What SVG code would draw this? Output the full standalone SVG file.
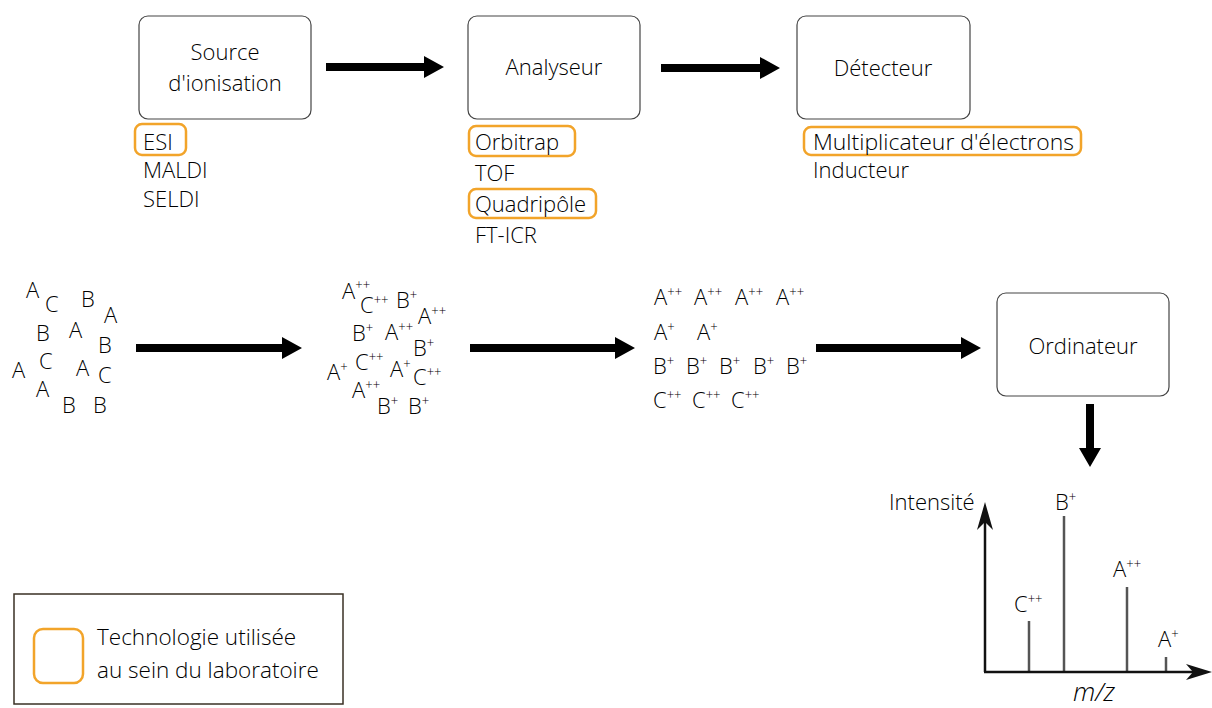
<svg xmlns="http://www.w3.org/2000/svg" width="1212" height="708" viewBox="0 0 1212 708">
<style>
text{font-family:"Open Sans","Noto Sans","Liberation Sans",sans-serif;font-size:22px;font-weight:300;fill:#000}
.box{fill:#fff;stroke:#444;stroke-width:1.2}
.hl{fill:none;stroke:#F2A42A;stroke-width:2.5}
.c{text-anchor:middle}
.s{font-size:13px}
.leg{font-size:22.5px}
.mz{font-size:26px;font-style:italic}
.bar{stroke:#555;stroke-width:2.5}
.ax{stroke:#111;stroke-width:2.5;fill:none}
.big{fill:#000}
</style>

<g id="connectors">
<path class="big" d="M326,63 H424 V56 L444,67 L424,78 V71 H326 Z"/>
<path class="big" d="M661,64 H760 V57 L780,68 L760,79 V72 H661 Z"/>
<path class="big" d="M136,344 H282 V337 L302,348 L282,359 V352 H136 Z"/>
<path class="big" d="M470,344 H615 V337 L635,348 L615,359 V352 H470 Z"/>
<path class="big" d="M816,344 H961 V337 L981,348 L961,359 V352 H816 Z"/>
<path class="big" d="M1086,404 H1094 V448 H1101 L1090,467 L1079,448 H1086 Z"/>
</g>

<g id="source">
<rect class="box" x="139" y="16" width="172" height="103" rx="9"/>
<text class="c" x="225" y="60">Source</text>
<text class="c" x="225" y="91">d'ionisation</text>
<rect class="hl" x="135" y="124" width="51" height="31" rx="7"/>
<text x="143" y="150">ESI</text>
<text x="143" y="178">MALDI</text>
<text x="143" y="207">SELDI</text>
</g>

<g id="analyseur">
<rect class="box" x="468" y="16" width="172" height="103" rx="9"/>
<text class="c" x="554" y="75">Analyseur</text>
<rect class="hl" x="469" y="126" width="106" height="30" rx="7"/>
<text x="475" y="150">Orbitrap</text>
<text x="475" y="181">TOF</text>
<rect class="hl" x="469" y="189" width="127" height="29" rx="7"/>
<text x="475" y="212">Quadripôle</text>
<text x="475" y="243">FT-ICR</text>
</g>

<g id="detecteur">
<rect class="box" x="797" y="16" width="173" height="103" rx="9"/>
<text class="c" x="883" y="76">Détecteur</text>
<rect class="hl" x="804" y="127" width="277" height="28" rx="7"/>
<text x="813" y="150" textLength="261" lengthAdjust="spacingAndGlyphs">Multiplicateur d'électrons</text>
<text x="813" y="178">Inducteur</text>
</g>

<g id="ordinateur">
<rect class="box" x="997" y="293" width="172" height="103" rx="9"/>
<text class="c" x="1083" y="354">Ordinateur</text>
</g>

<g id="molecules">
<text x="26" y="298">A</text>
<text x="45" y="312">C</text>
<text x="81" y="307">B</text>
<text x="104" y="323">A</text>
<text x="36" y="341">B</text>
<text x="69" y="338">A</text>
<text x="98" y="353">B</text>
<text x="39" y="369">C</text>
<text x="12" y="378">A</text>
<text x="76" y="376">A</text>
<text x="98" y="383">C</text>
<text x="36" y="397">A</text>
<text x="62" y="413">B</text>
<text x="93" y="413">B</text>
</g>

<g id="ions">
<text x="342" y="299">A<tspan class="s" dy="-10">++</tspan></text>
<text x="360" y="313">C<tspan class="s" dy="-9">++</tspan></text>
<text x="396" y="308">B<tspan class="s" dy="-9">+</tspan></text>
<text x="418" y="324">A<tspan class="s" dy="-9">++</tspan></text>
<text x="352" y="341">B<tspan class="s" dy="-9">+</tspan></text>
<text x="385" y="340">A<tspan class="s" dy="-9">++</tspan></text>
<text x="413" y="356">B<tspan class="s" dy="-9">+</tspan></text>
<text x="327" y="380">A<tspan class="s" dy="-9">+</tspan></text>
<text x="355" y="370">C<tspan class="s" dy="-9">++</tspan></text>
<text x="390" y="377">A<tspan class="s" dy="-9">+</tspan></text>
<text x="413" y="385">C<tspan class="s" dy="-9">++</tspan></text>
<text x="352" y="398">A<tspan class="s" dy="-9">++</tspan></text>
<text x="377" y="414">B<tspan class="s" dy="-9">+</tspan></text>
<text x="408" y="414">B<tspan class="s" dy="-9">+</tspan></text>
</g>

<g id="separated">
<text x="654" y="305">A<tspan class="s" dy="-9">++</tspan></text>
<text x="694" y="305">A<tspan class="s" dy="-9">++</tspan></text>
<text x="735" y="305">A<tspan class="s" dy="-9">++</tspan></text>
<text x="776" y="305">A<tspan class="s" dy="-9">++</tspan></text>
<text x="654" y="340">A<tspan class="s" dy="-9">+</tspan></text>
<text x="697" y="340">A<tspan class="s" dy="-9">+</tspan></text>
<text x="653" y="374">B<tspan class="s" dy="-9">+</tspan></text>
<text x="686" y="374">B<tspan class="s" dy="-9">+</tspan></text>
<text x="719" y="374">B<tspan class="s" dy="-9">+</tspan></text>
<text x="753" y="374">B<tspan class="s" dy="-9">+</tspan></text>
<text x="786" y="374">B<tspan class="s" dy="-9">+</tspan></text>
<text x="653" y="408">C<tspan class="s" dy="-9">++</tspan></text>
<text x="692" y="408">C<tspan class="s" dy="-9">++</tspan></text>
<text x="731" y="408">C<tspan class="s" dy="-9">++</tspan></text>
</g>

<g id="spectre">
<line class="bar" x1="1029" y1="621" x2="1029" y2="672"/>
<line class="bar" x1="1064" y1="516" x2="1064" y2="672"/>
<line class="bar" x1="1127" y1="587" x2="1127" y2="672"/>
<line class="bar" x1="1166" y1="657" x2="1166" y2="672"/>
<path d="M985,672 V512" class="ax"/>
<path d="M985,502 L993,530 L985,522 L977,530 Z" fill="#111"/>
<path d="M984,672 H1200" class="ax"/>
<path d="M1212,672 L1186,664 L1193,672 L1186,680 Z" fill="#111"/>
<text x="889" y="510">Intensité</text>
<text x="1055" y="510">B<tspan class="s" dy="-9">+</tspan></text>
<text x="1113" y="577">A<tspan class="s" dy="-9">++</tspan></text>
<text x="1014" y="612">C<tspan class="s" dy="-9">++</tspan></text>
<text x="1158" y="647">A<tspan class="s" dy="-9">+</tspan></text>
<text class="c mz" x="1094" y="701">m/z</text>
</g>

<g id="legende">
<rect x="14" y="594" width="329" height="110" fill="#fff" stroke="#3a3024" stroke-width="1.5"/>
<rect class="hl" x="34" y="629" width="49" height="54" rx="9"/>
<text class="leg" x="97" y="645">Technologie utilisée</text>
<text class="leg" x="97" y="678">au sein du laboratoire</text>
</g>
</svg>
